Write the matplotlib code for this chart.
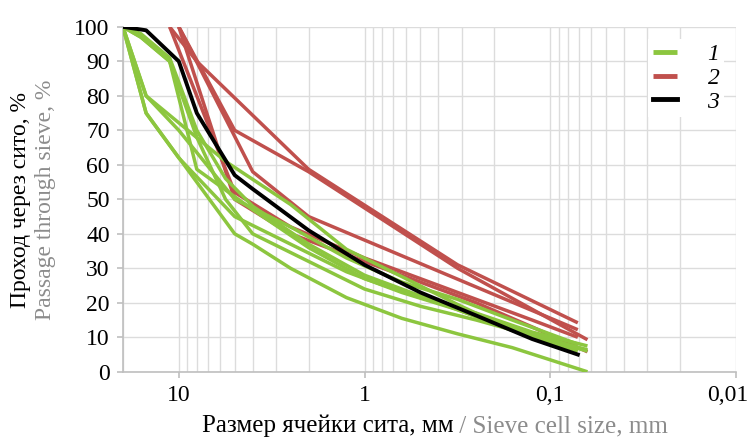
import matplotlib
matplotlib.use("Agg")
import matplotlib.pyplot as plt
import matplotlib.transforms as mtrans
from matplotlib.ticker import FixedLocator, LogLocator, NullFormatter

plt.rcParams['font.family'] = ['Liberation Serif', 'DejaVu Serif']

# series 1 (green)
g_x = [
    [20, 15, 5.6, 2.5, 1.25, 0.63, 0.315, 0.16, 0.063],
    [20, 15, 5, 4, 2.5, 1.25, 0.63, 0.315, 0.16, 0.063],
    [20, 16, 11.2, 8, 4, 2, 1, 0.5, 0.25, 0.125, 0.063],
    [20, 16, 11.2, 8, 5.6, 4, 2, 1, 0.5, 0.25, 0.125, 0.063],
    [20, 15, 10, 5, 2.5, 1.25, 0.63, 0.315, 0.16, 0.071],
    [20, 16, 11.2, 8, 5.6, 4, 2, 1, 0.5, 0.25, 0.125, 0.071],
    [20, 15, 10, 5, 2.5, 1.25, 0.63, 0.315, 0.16, 0.071],
]
g_y = [
    [100, 80, 61, 48.5, 35.5, 27.6, 19.5, 12, 6.4],
    [100, 75, 40, 37, 30, 21.5, 15.5, 11, 7, 0],
    [100, 97, 90, 58.7, 47, 36, 27, 21.5, 17, 11.5, 7.5],
    [100, 97, 90, 68, 50, 40, 32, 24, 19, 15, 10.5, 6],
    [100, 80, 70, 50, 42, 33, 26, 21, 15, 8],
    [100, 98, 91, 70, 56, 48, 37, 28, 22, 16, 11, 7],
    [100, 75, 62, 45, 37, 29, 23, 18, 12, 6],
]

# series 2 (red)
r_x = [
    [11.2, 8, 2, 0.315, 0.071],
    [10, 5, 2, 0.315, 0.063],
    [10, 4, 2, 0.071],
    [10, 5, 2.5, 1, 0.5, 0.25, 0.125, 0.063],
    [11.2, 5, 2.5, 1, 0.5, 0.25, 0.125, 0.071],
]
r_y = [
    [100, 90, 58.7, 31, 14.2],
    [100, 70, 58, 30, 9.3],
    [100, 58, 45, 12.2],
    [100, 50, 40, 32, 26, 20, 13, 5.8],
    [100, 52, 42, 33, 27, 21, 15, 10],
]

# series 3 (black)
b_x = [20, 15, 10, 8, 5, 4, 2, 1, 0.5, 0.25, 0.125, 0.071]
b_y = [100, 99, 90, 75, 57, 53, 41, 31, 23, 16.3, 9.5, 5]

labels = ['1', '2', '3']
c_green = '#8cc63f'
c_red = '#c0504d'
c_black = '#000000'

fig = plt.figure(figsize=(7.54, 4.40), dpi=100)
ax = fig.add_axes([0.163, 0.155, 0.813, 0.784])

for i, (xs, ys) in enumerate(zip(g_x, g_y)):
    ax.plot(xs, ys, color=c_green, lw=2.5, solid_capstyle='butt',
            label=labels[0] if i == 0 else None, zorder=3)
for i, (xs, ys) in enumerate(zip(r_x, r_y)):
    ax.plot(xs, ys, color=c_red, lw=2.5, solid_capstyle='butt',
            label=labels[1] if i == 0 else None, zorder=2)
ax.plot(b_x, b_y, color=c_black, lw=2.8, label=labels[2], zorder=4)

ax.set_xscale('log')
ax.set_xlim(20, 0.01)
ax.set_ylim(0, 100)
ax.xaxis.set_major_locator(FixedLocator([10, 1, 0.1, 0.01]))
ax.set_xticklabels(['10', '1', '0,1', '0,01'])
ax.xaxis.set_minor_locator(LogLocator(base=10, subs=range(2, 10), numticks=20))
ax.xaxis.set_minor_formatter(NullFormatter())
ax.set_yticks(range(0, 101, 10))

ax.grid(True, which='both', color='#dcdcdc', lw=1.0, zorder=0)
ax.set_axisbelow(True)
for s in ['top', 'right']:
    ax.spines[s].set_visible(False)
for s in ['left', 'bottom']:
    ax.spines[s].set_color('#bfbfbf')
    ax.spines[s].set_linewidth(1.2)
ax.tick_params(axis='both', which='major', labelsize=17, color='#bfbfbf',
               length=4.5, width=1.2, pad=5)
ax.tick_params(axis='x', which='minor', length=0)

# keep the last x label inside the picture
lab = ax.get_xticklabels()[-1]
lab.set_transform(lab.get_transform() + mtrans.ScaledTranslation(-6 / 72, 0, fig.dpi_scale_trans))

leg = ax.legend(loc='upper right', bbox_to_anchor=(1.0, 1.0), frameon=True,
                fancybox=False, edgecolor='none', framealpha=1.0,
                handlelength=1.0, handletextpad=1.3, labelspacing=0.1,
                prop={'size': 17, 'style': 'italic'}, borderpad=0.2)
for h in leg.get_lines():
    h.set_linewidth(3.5)

# y label, two lines
fig.text(0.027, 0.545, 'Проход через сито, %', rotation=90, fontsize=17,
         ha='center', va='center', color='black')
fig.text(0.060, 0.545, 'Passage through sieve, %', rotation=90, fontsize=17,
         ha='center', va='center', color='#8c8c8c')

# x label, two colours on one line
fig.canvas.draw()
r = fig.canvas.get_renderer()
t1 = fig.text(0, 0.018, 'Размер ячейки сита, мм', fontsize=18, color='black')
t2 = fig.text(0, 0.018, ' / Sieve cell size, mm', fontsize=18, color='#8c8c8c')
w1 = t1.get_window_extent(r).width
w2 = t2.get_window_extent(r).width
W = fig.bbox.width
x0 = (0.577 * W - (w1 + w2) / 2) / W
t1.set_x(x0)
t2.set_x(x0 + w1 / W)

fig.savefig('out.png', dpi=100)
